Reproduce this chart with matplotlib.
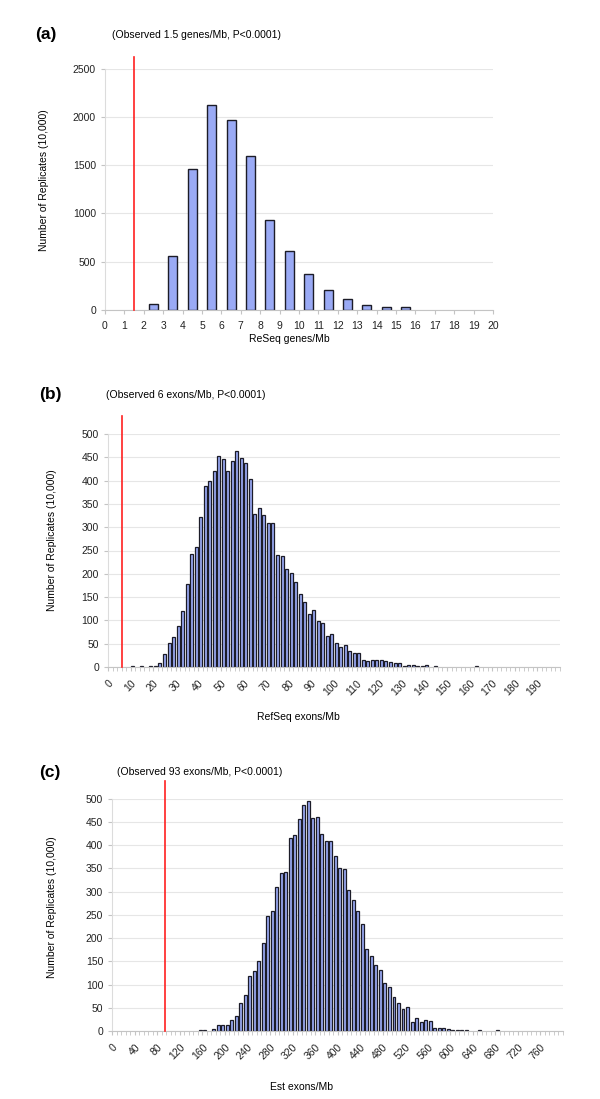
import numpy as np
import matplotlib
matplotlib.use("Agg")
import matplotlib.pyplot as plt

plt.rcParams['font.family'] = ['Liberation Sans', 'DejaVu Sans']

# panel (a): genes/Mb, bins of 1
a_bins = list(range(20))
a_counts = [0, 0, 55, 553, 1456, 2127, 1964, 1597, 930, 612,
            367, 207, 107, 48, 24, 24, 0, 0, 0, 0]
a_obs = 1.5

# panel (b): RefSeq exons/Mb, bins of 2
b_binw = 2
b_counts = [0, 0, 0, 0, 0, 2, 0, 2, 0, 3,
            3, 9, 28, 51, 65, 88, 120, 178, 242, 258,
            322, 389, 400, 420, 453, 446, 421, 441, 463, 449,
            437, 404, 328, 342, 326, 309, 308, 241, 239, 211,
            202, 182, 157, 140, 114, 122, 98, 94, 67, 70,
            51, 42, 47, 34, 30, 30, 16, 12, 15, 16,
            15, 12, 11, 9, 9, 3, 5, 5, 2, 2,
            4, 0, 2, 0, 0, 0, 0, 0, 0, 0,
            0, 2, 0, 0, 0, 0, 0, 0, 0, 0,
            0, 0, 0, 0, 0, 0, 0, 0, 0, 0]
b_obs = 6

# panel (c): Est exons/Mb, bins of 8
c_binw = 8
c_counts = [0, 0, 0, 0, 0, 0, 0, 0, 0, 0,
            0, 0, 0, 0, 0, 0, 0, 0, 0, 3,
            3, 0, 4, 12, 12, 12, 24, 33, 60, 78,
            118, 130, 150, 189, 248, 259, 311, 340, 343, 415,
            422, 457, 486, 496, 458, 460, 424, 410, 410, 376,
            351, 348, 303, 281, 259, 230, 176, 162, 142, 131,
            104, 94, 74, 61, 47, 51, 20, 29, 19, 24,
            21, 6, 6, 6, 4, 3, 3, 3, 3, 0,
            0, 3, 0, 0, 0, 3, 0, 0, 0, 0,
            0, 0, 0, 0, 0, 0, 0, 0, 0, 0]
c_obs = 93

ylabel = "Number of Replicates (10,000)"
bar_fc = '#9aaaf5'
bar_ec = '#1c1c28'
grid_c = '#e6e6e6'
fs = 7.5


def style_axes(ax):
    for s in ['top', 'right']:
        ax.spines[s].set_visible(False)
    ax.spines['left'].set_color('#dcdcdc')
    ax.spines['bottom'].set_color('#c4c4c4')
    ax.spines['left'].set_linewidth(0.8)
    ax.spines['bottom'].set_linewidth(0.8)
    ax.yaxis.grid(True, color=grid_c, lw=0.8)
    ax.set_axisbelow(True)
    ax.tick_params(axis='both', which='both', color='#c4c4c4', length=3,
                   labelsize=fs, labelcolor='#222222')


fig = plt.figure(figsize=(6, 10.99), dpi=100)
H = 1099.0

# ---- (a)
ax = fig.add_axes([105 / 600, 1 - 309.7 / H, 388 / 600, 241 / H])
x = np.array(a_bins) + 0.5
h = np.array(a_counts)
nz = h > 0
ax.bar(x[nz], h[nz], width=0.46, color=bar_fc, edgecolor=bar_ec, lw=1.0, zorder=2)
ax.axvline(a_obs, ymin=0, ymax=1.049, color='#ff2020', lw=1.2, clip_on=False, zorder=3)
ax.set_xlim(0, 20)
ax.set_ylim(0, 2500)
ax.set_xticks(range(21))
ax.set_yticks(range(0, 2501, 500))
style_axes(ax)
ax.tick_params(axis='x', pad=5)
fig.text(35 / 600, 1 - 35 / H, "(a)", fontsize=12.5, fontweight='bold', va='center')
fig.text(112 / 600, 1 - 35 / H, "(Observed 1.5 genes/Mb, P<0.0001)", fontsize=fs, va='center')
fig.text(44 / 600, 1 - 180 / H, ylabel, fontsize=fs, rotation=90, ha='center', va='center')
fig.text(289 / 600, 1 - 339 / H, "ReSeq genes/Mb", fontsize=fs, ha='center', va='center')


def dense_panel(rect, counts, binw, obs, title, xlabel, top_y, lab_x, xlab_pos, ylab_pos):
    ax = fig.add_axes(rect)
    n = len(counts)
    centers = np.arange(n) * binw + binw / 2
    h = np.array(counts)
    nz = h > 0
    ax.bar(centers[nz], h[nz], width=binw * 0.66, color=bar_fc, edgecolor=bar_ec, lw=0.9, zorder=2)
    ax.axvline(obs, ymin=0, ymax=1.077, color='#ff2020', lw=1.2, clip_on=False, zorder=3)
    ax.set_xlim(0, n * binw)
    ax.set_ylim(0, 500)
    ax.set_yticks(range(0, 501, 50))
    ax.set_xticks(np.arange(0, n * binw, binw * 5))
    ax.set_xticks(np.arange(0, n * binw + 1, binw), minor=True)
    ax.set_xticklabels([str(int(v)) for v in np.arange(0, n * binw, binw * 5)],
                       rotation=45, ha='right', va='top', rotation_mode='anchor')
    style_axes(ax)
    ax.tick_params(axis='x', pad=5)
    fig.text(39 / 600, 1 - top_y / H, title[0], fontsize=12.5, fontweight='bold', va='center')
    fig.text(lab_x / 600, 1 - top_y / H, title[1], fontsize=fs, va='center')
    fig.text(ylab_pos[0] / 600, 1 - ylab_pos[1] / H, ylabel, fontsize=fs, rotation=90,
             ha='center', va='center')
    fig.text(xlab_pos[0] / 600, 1 - xlab_pos[1] / H, xlabel, fontsize=fs, ha='center', va='center')
    return ax


dense_panel([108 / 600, 1 - 667 / H, 452 / 600, 233 / H], b_counts, b_binw, b_obs,
            ("(b)", "(Observed 6 exons/Mb, P<0.0001)"), "RefSeq exons/Mb",
            395, 106, (298, 717), (52, 540))

dense_panel([112.3 / 600, 1 - 1031 / H, 450.7 / 600, 232.3 / H], c_counts, c_binw, c_obs,
            ("(c)", "(Observed 93 exons/Mb, P<0.0001)"), "Est exons/Mb",
            772, 117, (302, 1087), (52, 907))

fig.savefig("out.png", dpi=100, facecolor='white')
